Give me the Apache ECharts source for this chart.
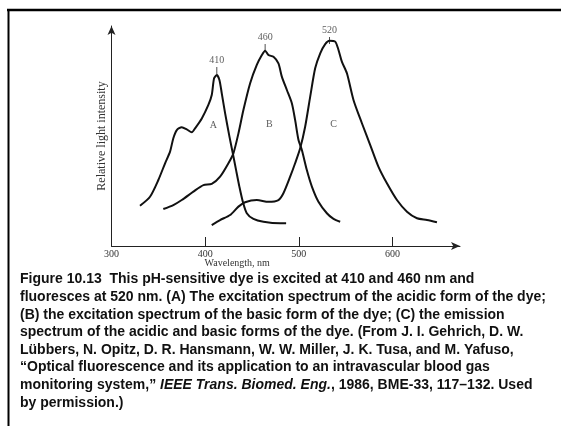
<!DOCTYPE html>
<html>
<head>
<meta charset="utf-8">
<script src="https://cdn.jsdelivr.net/npm/echarts@6/dist/echarts.min.js"></script>
<style>
html,body{margin:0;padding:0;background:#fff;}
#chart{width:561px;height:426px;}
</style>
</head>
<body>
<div id="chart"></div>
<script>
// ---- Data ----
const wavelengthA = [330.4,341.1,350,357.2,362.5,366,369.7,375,380.3,385.7,389.2,396.4,403.4,407,409.5,412.4,415.2,417.7,421.3,425.9,429.5,433,436.5,440.2,444.4,451.5,462.2,480,486.4];
const intensityA  = [18.3,22.4,30,37.6,42.9,49,52.7,54,53,51.7,53.5,58,64.1,68.6,76.2,77.7,75.5,69.4,60.3,49.7,42.1,34.5,27,20.1,14.9,12.3,11,10.3,10.3];

const wavelengthB = [355.3,366,375,387.4,398.1,407,415.9,424.8,430.1,435.5,440.8,448,455.1,460.5,464,467.5,472.9,478.2,481.8,487.2,492.5,496,499.6,503.2,508.5,513.9,520.9,529.9,537,544.1];
const intensityB  = [16.8,18.6,20.9,24.7,27.7,28.2,31.5,37.6,42.1,51.2,61.8,74,82.3,86.8,88.8,86.8,86,83,77,70.9,64.9,57.3,48.2,43.6,34.5,27,20.1,14.9,12.3,11];

const wavelengthC = [407,415.9,426.6,435.5,442.6,455.1,467.5,478.2,483.5,490.7,496,501.4,506.7,512.1,517.4,522.8,528.1,532.7,538.8,542.3,545.9,551.3,558.3,567.3,576.2,585,594,604.7,615.4,626.1,636.8,647.4];
const intensityC  = [9.5,11.8,14.1,17.9,19.9,20.9,20.1,20.9,24,31.5,37.6,44.4,54.2,67.9,80.8,87.6,91.8,93.3,92.9,89.1,83.8,78.5,66.4,55.8,45.9,36,28.5,20.9,15.6,12.6,11.8,10.8];

const peakLabels      = ['410','460','520'];
const peakWavelengths = [412.4,464,532.7];
const peakMarkY       = [79.8,90.2,93.4];

const curveNames       = ['A','B','C'];
const curveLabelX      = [408.8,468.6,537];
const curveLabelY      = [55,55.5,55.5];

const xTickValues  = [400,500,600];
const xLabelValues = [300,400,500,600];

const captionLines = [
  'Figure 10.13  This pH-sensitive dye is excited at 410 and 460 nm and',
  'fluoresces at 520 nm. (A) The excitation spectrum of the acidic form of the dye;',
  '(B) the excitation spectrum of the basic form of the dye; (C) the emission',
  'spectrum of the acidic and basic forms of the dye. (From J. I. Gehrich, D. W.',
  'Lübbers, N. Opitz, D. R. Hansmann, W. W. Miller, J. K. Tusa, and M. Yafuso,',
  '“Optical fluorescence and its application to an intravascular blood gas',
  'monitoring system,” {i|IEEE Trans. Biomed. Eng.}, 1986, BME-33, 117–132. Used',
  'by permission.)'
];

// ---- Build ----
const zip = (xs, ys) => xs.map((x, i) => [x, ys[i]]);
const serif = '"Liberation Serif", "DejaVu Serif", serif';
const sans = '"Liberation Sans", Arial, sans-serif';

const chart = echarts.init(document.getElementById('chart'), null, {renderer: 'canvas'});

const lineSeries = [[wavelengthA, intensityA], [wavelengthB, intensityB], [wavelengthC, intensityC]].map((d, i) => ({
  type: 'line',
  name: curveNames[i],
  data: zip(d[0], d[1]),
  showSymbol: false,
  smooth: 0.25,
  lineStyle: {color: '#111', width: 2},
  silent: true
}));

const captionGraphics = captionLines.map((t, i) => ({
  type: 'text',
  left: 20,
  top: 272.5 + i * 17.6,
  silent: true,
  style: {
    text: t,
    fill: '#111',
    font: 'bold 14px ' + sans,
    rich: {
      i: {font: 'italic bold 14px ' + sans, fill: '#111'}
    }
  }
}));

chart.setOption({
  animation: false,
  backgroundColor: '#fff',
  grid: {left: 111.5, right: 101, top: 26, bottom: 180},
  xAxis: {
    type: 'value',
    min: 300,
    max: 672,
    interval: 100,
    splitLine: {show: false},
    axisLine: {show: true, lineStyle: {color: '#222', width: 1}, symbol: ['none', 'arrow'], symbolSize: [6, 9]},
    axisTick: {show: true, inside: true, length: 9, customValues: xTickValues, lineStyle: {color: '#222', width: 1}},
    axisLabel: {customValues: xLabelValues, color: '#333', fontFamily: serif, fontSize: 10, margin: 3},
    name: 'Wavelength, nm',
    nameLocation: 'middle',
    nameGap: 12,
    nameMoveOverlap: false,
    nameTextStyle: {color: '#333', fontFamily: serif, fontSize: 10, padding: [0, 97, 0, 0]}
  },
  yAxis: {
    type: 'value',
    min: 0,
    max: 100,
    splitLine: {show: false},
    axisLine: {show: true, lineStyle: {color: '#222', width: 1}, symbol: ['none', 'arrow'], symbolSize: [6, 9]},
    axisTick: {show: false},
    axisLabel: {show: false},
    name: 'Relative light intensity',
    nameLocation: 'middle',
    nameGap: 4,
    nameMoveOverlap: false,
    nameTextStyle: {color: '#333', fontFamily: serif, fontSize: 12}
  },
  series: lineSeries.concat([
    {
      type: 'scatter',
      name: 'peaks',
      data: zip(peakWavelengths, peakMarkY),
      symbol: 'rect',
      symbolSize: [1, 7],
      itemStyle: {color: '#222'},
      silent: true,
      label: {
        show: true,
        position: 'top',
        distance: 2,
        color: '#333',
        fontFamily: serif,
        fontSize: 10,
        formatter: p => peakLabels[p.dataIndex]
      }
    },
    {
      type: 'scatter',
      name: 'curve letters',
      data: zip(curveLabelX, curveLabelY),
      symbolSize: 0,
      silent: true,
      label: {
        show: true,
        position: 'inside',
        color: '#333',
        fontFamily: serif,
        fontSize: 10,
        formatter: p => curveNames[p.dataIndex]
      }
    }
  ]),
  graphic: [
    {type: 'line', silent: true, shape: {x1: 7, y1: 10, x2: 561, y2: 10}, style: {stroke: '#000', lineWidth: 2.5}},
    {type: 'line', silent: true, shape: {x1: 8.5, y1: 9, x2: 8.5, y2: 426}, style: {stroke: '#000', lineWidth: 2}}
  ].concat(captionGraphics)
});
</script>
</body>
</html>
